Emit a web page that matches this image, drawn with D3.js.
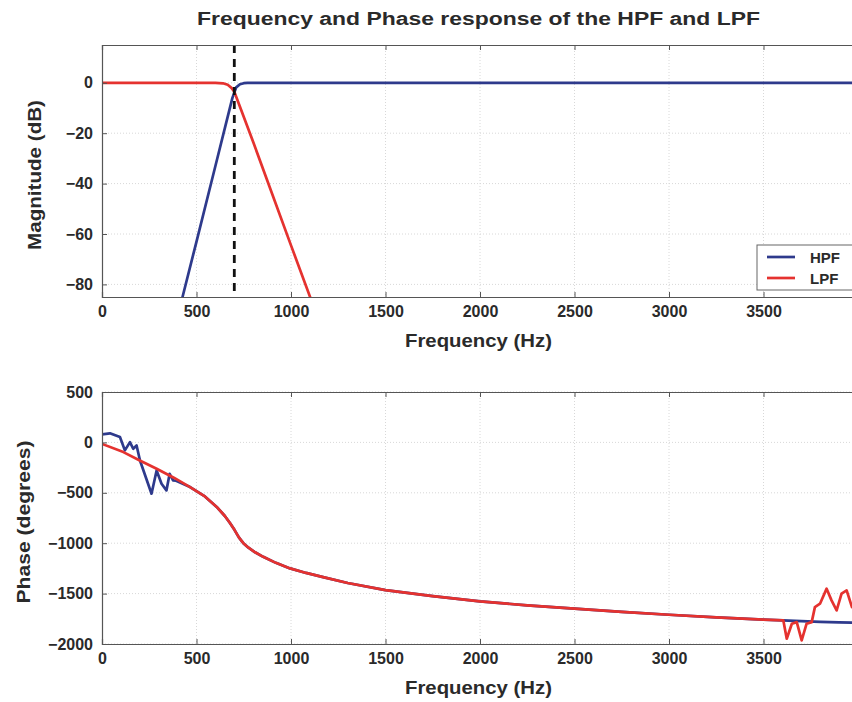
<!DOCTYPE html>
<html><head><meta charset="utf-8">
<script src="https://cdn.jsdelivr.net/npm/d3@7"></script>
<style>
body{margin:0;background:#fff;}
text{font-family:"Liberation Sans",Arial,sans-serif;font-weight:bold;}
</style></head>
<body><svg id="c" width="852" height="702"></svg>
<script>
// ---- data ----
const title = "Frequency and Phase response of the HPF and LPF";
const xTicks = [0, 500, 1000, 1500, 2000, 2500, 3000, 3500];
const magTicks = [0, -20, -40, -60, -80];
const phaseTicks = [500, 0, -500, -1000, -1500, -2000];
const cutoffHz = 700;

const hpfMagFreq = [380, 426, 500, 600, 650, 690, 710, 730, 750, 770, 800, 4000];
const hpfMagDb   = [-99, -85, -63, -33, -18, -6, -1.8, -0.6, -0.15, 0, 0, 0];
const lpfMagFreq = [0, 600, 640, 665, 685, 700, 715, 800, 900, 1000, 1101, 1140];
const lpfMagDb   = [0, 0, -0.2, -0.8, -2, -3.5, -6.5, -23.5, -44, -64.5, -85, -93];

const hpfPhFreq = [0, 42, 95, 121, 148, 165, 183, 201, 262, 289, 315, 341, 358, 376, 392, 466, 540, 607, 650, 677, 700, 725, 748, 775, 810, 853, 920, 995, 1080, 1170, 1300, 1500, 1750, 2000, 2250, 2500, 2750, 3000, 3250, 3500, 3600, 3700, 3800, 3900, 4000];
const hpfPhDeg  = [80, 90, 53, -79, 3, -63, -30, -179, -509, -278, -410, -476, -311, -377, -380, -443, -530, -640, -730, -800, -865, -945, -1000, -1045, -1090, -1135, -1195, -1250, -1295, -1336, -1395, -1465, -1525, -1577, -1617, -1650, -1682, -1710, -1736, -1759, -1766, -1774, -1780, -1785, -1790];
const lpfPhFreq = [0, 113, 200, 289, 380, 466, 540, 607, 650, 677, 700, 725, 748, 775, 810, 853, 920, 995, 1080, 1170, 1300, 1500, 1750, 2000, 2250, 2500, 2750, 3000, 3250, 3500, 3605, 3623, 3650, 3676, 3702, 3728, 3755, 3772, 3799, 3834, 3860, 3887, 3913, 3940, 3968, 4000];
const lpfPhDeg  = [-15, -96, -180, -261, -350, -443, -530, -640, -730, -800, -865, -945, -1000, -1045, -1090, -1135, -1195, -1250, -1295, -1336, -1395, -1465, -1525, -1577, -1617, -1650, -1682, -1710, -1736, -1759, -1766, -1948, -1799, -1783, -1964, -1799, -1783, -1634, -1600, -1451, -1567, -1667, -1501, -1468, -1634, -1550];

const legendNames = ["HPF", "LPF"];
const colors = {HPF: "#2e3a8c", LPF: "#e5322f"};

// ---- drawing ----
const svg = d3.select("#c");
const L = 102, R = 858;
const x = d3.scaleLinear().domain([0, 4000]).range([L, R]);
const FONT = '"Liberation Sans",Arial,sans-serif';

svg.append("text").attr("x", 478.5).attr("y", 25).attr("text-anchor", "middle")
  .attr("font-size", 18).attr("fill", "#2a2a2a")
  .attr("textLength", 563).attr("lengthAdjust", "spacingAndGlyphs").text(title);

function panel(id, top, bottom, ydom, yTicks, ylab, ylabX, ylabLen, series, extra) {
  const y = d3.scaleLinear().domain(ydom).range([bottom, top]);
  const g = svg.append("g");
  g.append("clipPath").attr("id", id).append("rect")
    .attr("x", L).attr("y", top).attr("width", R - L).attr("height", bottom - top);
  g.append("rect").attr("x", L).attr("y", top).attr("width", R - L).attr("height", bottom - top).attr("fill", "#fff");
  // grid
  const grid = g.append("g").attr("stroke", "#d8d8d8").attr("stroke-width", 1).attr("stroke-dasharray", "1,2");
  xTicks.forEach(t => { if (t > 0) grid.append("line").attr("x1", x(t)).attr("x2", x(t)).attr("y1", top).attr("y2", bottom); });
  yTicks.forEach(t => { grid.append("line").attr("x1", L).attr("x2", R).attr("y1", y(t)).attr("y2", y(t)); });
  // series
  const line = d3.line().x(d => x(d[0])).y(d => y(d[1]));
  const sg = g.append("g").attr("clip-path", `url(#${id})`);
  series.forEach(s => {
    sg.append("path").datum(s.f.map((f, i) => [f, s.v[i]]))
      .attr("d", line).attr("fill", "none").attr("stroke", colors[s.name])
      .attr("stroke-width", 2.7).attr("stroke-linejoin", "round");
  });
  if (extra) extra(sg, y);
  // axes
  const ax = d3.axisBottom(x).tickValues(xTicks).tickSize(-5).tickPadding(9).tickFormat(d3.format("d"));
  const axg = g.append("g").attr("transform", `translate(0,${bottom})`).call(ax);
  const axt = g.append("g").attr("transform", `translate(0,${top})`).call(d3.axisTop(x).tickValues(xTicks).tickSize(-5).tickFormat(""));
  const ay = d3.axisLeft(y).tickValues(yTicks).tickSize(-5).tickPadding(9).tickFormat(d3.format("d"));
  const ayg = g.append("g").attr("transform", `translate(${L},0)`).call(ay);
  [axg, axt, ayg].forEach(a => {
    a.select(".domain").attr("stroke", "#555").attr("stroke-width", 1.2);
    a.selectAll(".tick line").attr("stroke", "#555");
    a.selectAll("text").attr("font-size", 16).attr("fill", "#2a2a2a").attr("font-family", FONT).attr("font-weight", "bold");
  });
  g.append("text").attr("x", 478.5).attr("y", bottom + 50).attr("text-anchor", "middle")
    .attr("font-size", 18).attr("fill", "#2a2a2a")
    .attr("textLength", 147).attr("lengthAdjust", "spacingAndGlyphs").text("Frequency (Hz)");
  g.append("text").attr("transform", `translate(${ylabX},${(top + bottom) / 2 + 4}) rotate(-90)`)
    .attr("text-anchor", "middle").attr("font-size", 18).attr("fill", "#2a2a2a")
    .attr("textLength", ylabLen).attr("lengthAdjust", "spacingAndGlyphs").text(ylab);
  return {g, y};
}

panel("clipA", 45, 297, [-85, 15], magTicks, "Magnitude (dB)", 41, 150, [
  {name: "HPF", f: hpfMagFreq, v: hpfMagDb},
  {name: "LPF", f: lpfMagFreq, v: lpfMagDb}
], (sg, y) => {
  sg.append("line").attr("x1", x(cutoffHz)).attr("x2", x(cutoffHz)).attr("y1", y(15)).attr("y2", y(-85))
    .attr("stroke", "#111").attr("stroke-width", 2.8).attr("stroke-dasharray", "8,6");
});

// legend
const lg = svg.append("g").attr("transform", "translate(757,245)");
lg.append("rect").attr("x", 0).attr("y", 0).attr("width", 100).attr("height", 45)
  .attr("fill", "#fff").attr("stroke", "#666").attr("stroke-width", 1);
legendNames.forEach((n, i) => {
  const yy = 12 + i * 21;
  lg.append("line").attr("x1", 10).attr("x2", 38).attr("y1", yy).attr("y2", yy)
    .attr("stroke", colors[n]).attr("stroke-width", 2.7);
  lg.append("text").attr("x", 53).attr("y", yy + 5.5).attr("font-size", 15).attr("fill", "#2a2a2a").text(n);
});

panel("clipB", 392, 644, [-2000, 500], phaseTicks, "Phase (degrees)", 30, 163, [
  {name: "HPF", f: hpfPhFreq, v: hpfPhDeg},
  {name: "LPF", f: lpfPhFreq, v: lpfPhDeg}
]);
</script></body></html>
